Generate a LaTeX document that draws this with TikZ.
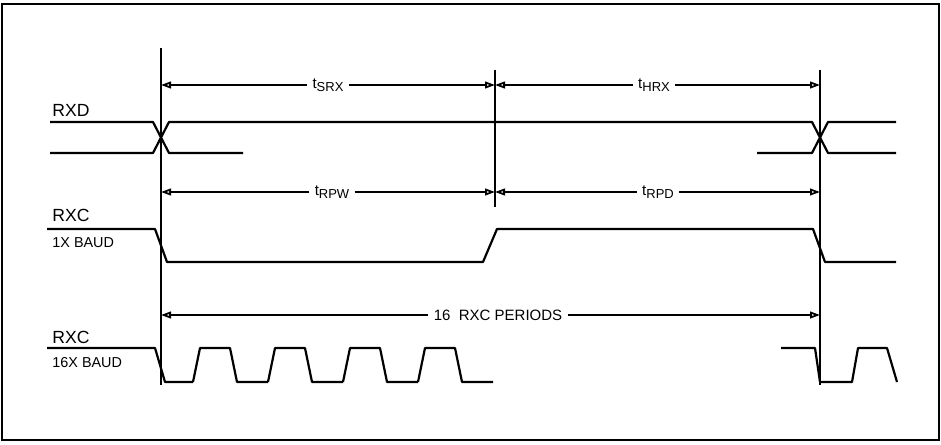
\documentclass[tikz,border=0pt]{standalone}
\usepackage{fontspec}
\setmainfont{Liberation Sans}
\usetikzlibrary{arrows.meta}
\tikzstyle{sig} = [line width=1.1pt, line join=round]
\tikzstyle{refline} = [line width=1.1pt]
\tikzstyle{dim} = [line width=0.9pt, -{Triangle[open,length=5pt,width=3.4pt]}]
\tikzstyle{signame} = [font=\fontsize{8.8}{9}\selectfont, anchor=west, inner sep=0pt]
\tikzstyle{baud} = [font=\fontsize{7.2}{8}\selectfont, anchor=west, inner sep=0pt]
\tikzstyle{tlabel} = [font=\fontsize{7.5}{8}\selectfont, inner sep=2.5pt]
\newcommand{\tsub}[1]{t\raisebox{-0.35ex}{\fontsize{6.5}{7}\selectfont #1}}

\begin{document}
\begin{tikzpicture}[x=0.5pt, y=-0.5pt]
\useasboundingbox (0,0) rectangle (941,444);
\draw[line width=1.1pt] (2,4) rectangle (939,440);

% reference lines
\coordinate (aTop) at (161,48);  \coordinate (aBot) at (161,385);
\coordinate (bTop) at (495,70);  \coordinate (bBot) at (495,207);
\coordinate (cTop) at (820,70);  \coordinate (cBot) at (820,385);
\draw[refline] (aTop) -- (aBot);
\draw[refline] (bTop) -- (bBot);
\draw[refline] (cTop) -- (cBot);

% signal names
\node (rxd) [signame] at (52,110) {RXD};
\node (rxc1) [signame] at (52,215) {RXC};
\node (baud1) [baud] at (52,243) {1X BAUD};
\node (rxc16) [signame] at (52,337) {RXC};
\node (baud16) [baud] at (52,363) {16X BAUD};

% timing labels
\node (tsrx) [tlabel] at (328,85) {\tsub{SRX}};
\node (thrx) [tlabel] at (654,85) {\tsub{HRX}};
\node (trpw) [tlabel] at (332,192) {\tsub{RPW}};
\node (trpd) [tlabel] at (658,192) {\tsub{RPD}};
\node (periods) [tlabel] at (498,315) {16\ \ RXC PERIODS};

\draw[dim] (tsrx.west) -- (tsrx -| aTop);
\draw[dim] (tsrx.east) -- (tsrx -| bTop);
\draw[dim] (thrx.west) -- (thrx -| bTop);
\draw[dim] (thrx.east) -- (thrx -| cTop);
\draw[dim] (trpw.west) -- (trpw -| aTop);
\draw[dim] (trpw.east) -- (trpw -| bTop);
\draw[dim] (trpd.west) -- (trpd -| bTop);
\draw[dim] (trpd.east) -- (trpd -| cTop);
\draw[dim] (periods.west) -- (periods -| aTop);
\draw[dim] (periods.east) -- (periods -| cTop);

% RXD
\draw[sig] (50,122) -- (153,122) -- (169,153) -- (243,153);
\draw[sig] (50,153) -- (153,153) -- (169,122) -- (812,122) -- (828,153) -- (896,153);
\draw[sig] (757,153) -- (812,153) -- (828,122) -- (896,122);

% RXC 1X
\draw[sig] (47,229) -- (155,229) -- (167,262) -- (483,262) -- (497,229)
  -- (813,229) -- (825,262) -- (896,262);

% RXC 16X
\draw[sig] (47,348) -- (155,348) -- (165,382) -- (193,382);
\foreach \k in {0,...,3}
  \draw[sig] ({193+75*\k},382) -- ({200+75*\k},348) -- ({230+75*\k},348)
    -- ({237+75*\k},382) -- ({268+75*\k},382);
\draw[sig] (781,348) -- (815,348) -- (820,382) -- (852,382) -- (858,348)
  -- (887,348) -- (897,382);
\end{tikzpicture}
\end{document}
